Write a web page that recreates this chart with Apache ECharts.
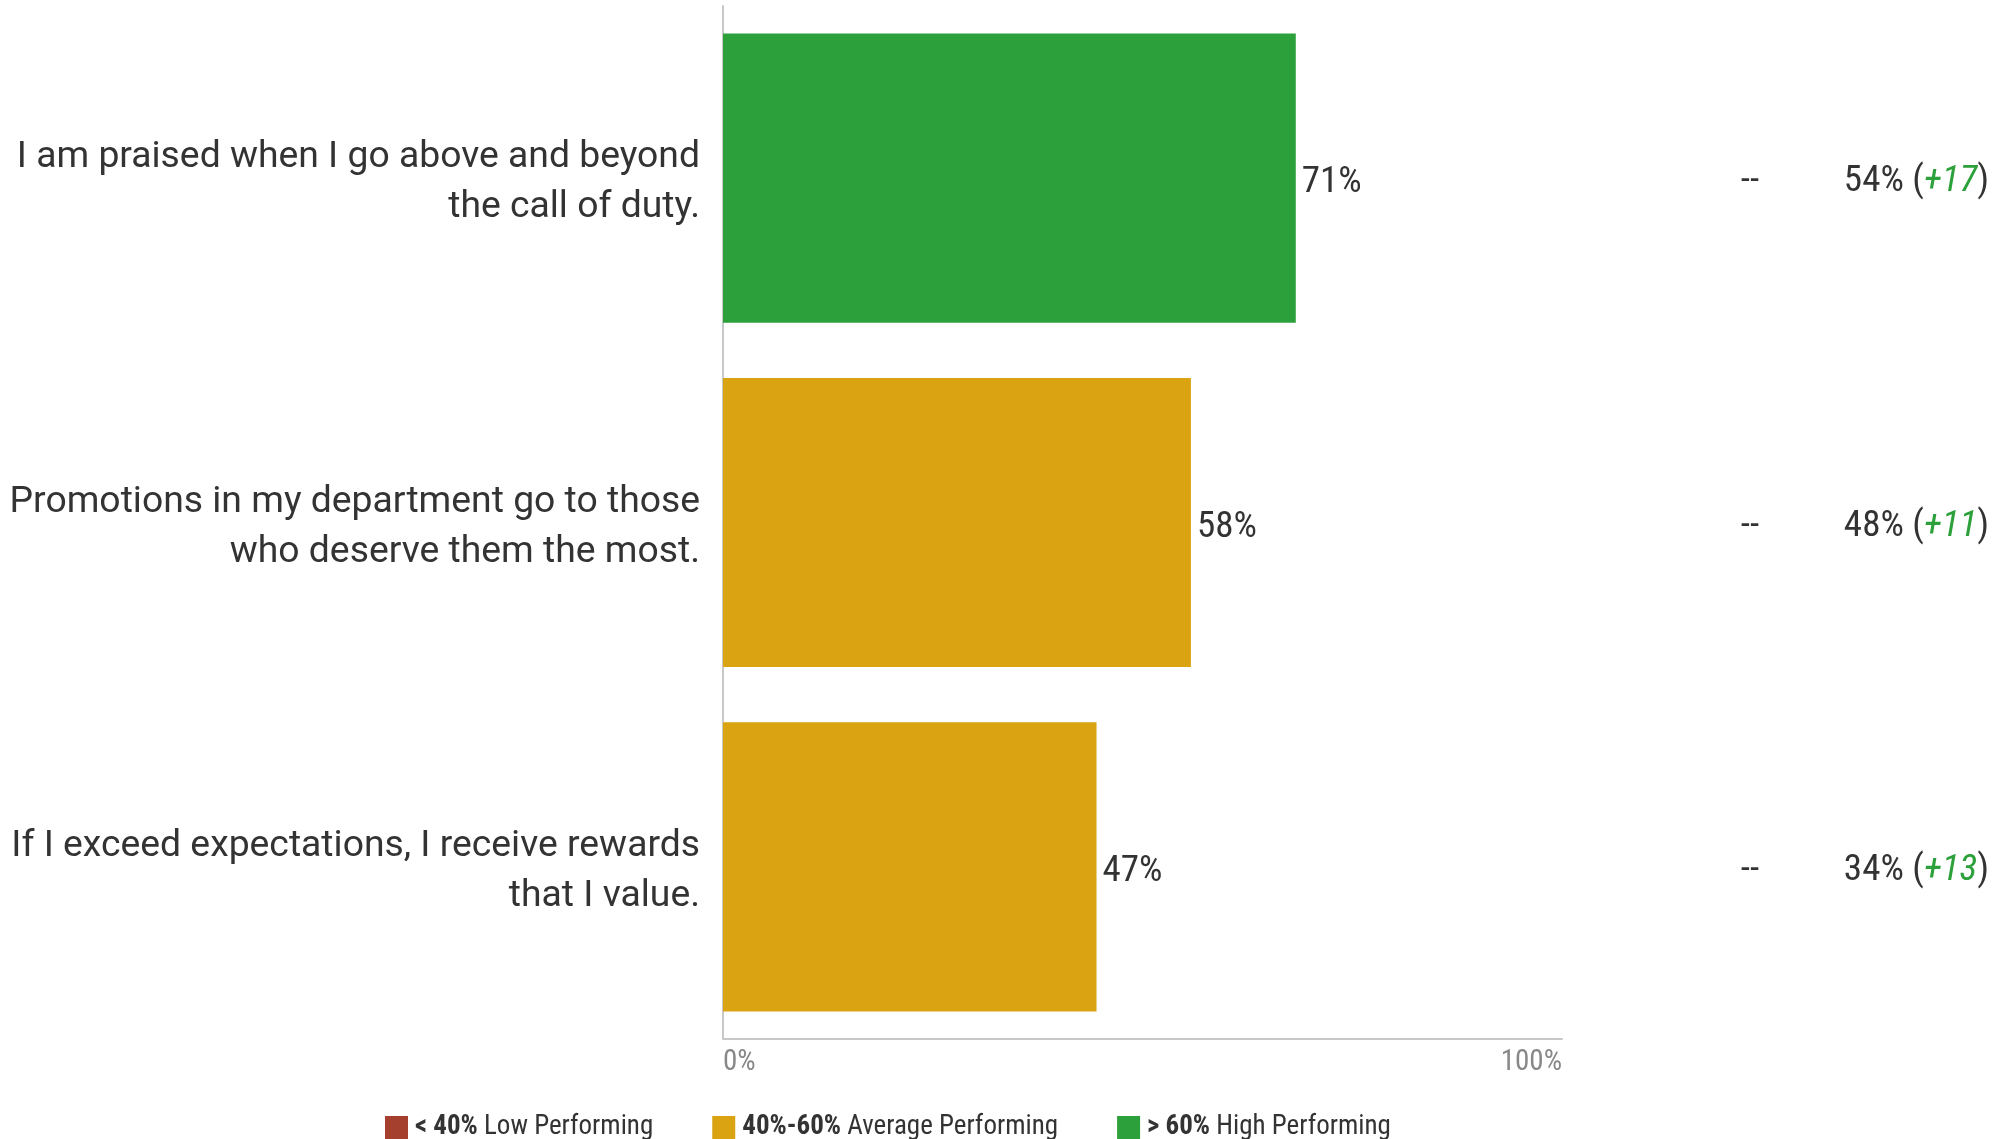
<!DOCTYPE html>
<html>
<head>
<meta charset="utf-8">
<script src="https://cdn.jsdelivr.net/npm/echarts@6/dist/echarts.min.js"></script>
<style>html,body{margin:0;padding:0;background:#fff}#c{width:2003px;height:1139px}</style>
</head>
<body>
<div id="c"></div>
<script>
const categories = [
  'I am praised when I go above and beyond\nthe call of duty.',
  'Promotions in my department go to those\nwho deserve them the most.',
  'If I exceed expectations, I receive rewards\nthat I value.'
];
const barValues = [71, 58, 46.3];
const scoreLabels = ['71%', '58%', '47%'];
const previous = ['--', '--', '--'];
const benchmarks = ['54%', '48%', '34%'];
const benchmarkDiffs = ['+17', '+11', '+13'];
const axisMax = 104;
const tickLabels = ['0%', '100%'];
const legendBold = ['< 40%', '40%-60%', '> 60%'];
const legendText = ['Low Performing', 'Average Performing', 'High Performing'];
const bandColors = ['#a5402f', '#d9a311', '#2ca03a'];
const bandLimits = [40, 60];

const narrow = "'Roboto Condensed','Liberation Sans Narrow','DejaVu Sans Condensed',Roboto,sans-serif";
const clear = 'rgba(0,0,0,0)';

function band(v){ return v < bandLimits[0] ? 0 : (v <= bandLimits[1] ? 1 : 2); }
const seriesNames = legendBold.map((b,i)=> b + ' ' + legendText[i]);
const series = [0,1,2].map(k => ({
  name: seriesNames[k],
  type: 'bar',
  stack: 'all',
  barCategoryGap: '16%',
  itemStyle: { color: bandColors[k] },
  label: {
    show: true, position: 'right', distance: 6, offset: [0, 5],
    formatter: p => scoreLabels[p.dataIndex],
    fontFamily: narrow, fontSize: 37, color: '#333'
  },
  data: barValues.map(v => band(v) === k ? v : '-')
}));

const chart = echarts.init(document.getElementById('c'));
chart.setOption({
  animation: false,
  grid: { left: 723, right: 441, top: 6, bottom: 100, containLabel: false },
  legend: {
    left: 380, top: 1109, icon: 'rect', itemWidth: 23, itemHeight: 23, itemGap: 59,
    selectedMode: false,
    data: seriesNames,
    formatter: name => { const i = seriesNames.indexOf(name); return '{b|' + legendBold[i] + '} ' + legendText[i]; },
    textStyle: {
      fontFamily: narrow, fontSize: 27, color: '#333', padding: [0,0,0,2],
      rich: { b: { fontFamily: narrow, fontSize: 27, fontWeight: 'bold', color: '#333' } }
    }
  },
  xAxis: {
    type: 'value', min: 0, max: axisMax, interval: axisMax,
    splitLine: { show: false },
    axisLine: { show: true, lineStyle: { color: '#c8c8c8', width: 2 } },
    axisTick: { show: false },
    axisLabel: {
      color: '#888', fontFamily: narrow, fontSize: 29, margin: 9,
      alignMinLabel: 'left', alignMaxLabel: 'right',
      formatter: v => v === 0 ? tickLabels[0] : tickLabels[1]
    }
  },
  yAxis: [
    {
      type: 'category', inverse: true, data: categories,
      axisLine: { show: true, lineStyle: { color: '#c8c8c8', width: 2 } },
      axisTick: { show: false },
      axisLabel: { color: '#333', fontFamily: 'Roboto', fontSize: 37.3, lineHeight: 50, margin: 23, align: 'right',
        padding: [10,0,0,0], backgroundColor: clear,
        formatter: v => v.split('\n').map(s => '{c|' + s + '}').join('\n'),
        rich: { c: { color: '#333', fontFamily: 'Roboto', fontSize: 37.3, lineHeight: 50 } }
      }
    },
    {
      type: 'category', inverse: true, position: 'right', data: categories,
      axisLine: { show: false }, axisTick: { show: false },
      axisLabel: { margin: 188, align: 'center', color: '#333', fontFamily: narrow, fontSize: 37,
        padding: [8,0,0,0], backgroundColor: clear,
        formatter: (v, i) => '{c|' + previous[i] + '}',
        rich: { c: { color: '#333', fontFamily: narrow, fontSize: 37 } }
      }
    },
    {
      type: 'category', inverse: true, position: 'right', data: categories,
      axisLine: { show: false }, axisTick: { show: false },
      axisLabel: { margin: 427, align: 'right', color: '#333', fontFamily: narrow, fontSize: 37,
        padding: [8,0,0,0], backgroundColor: clear,
        formatter: (v, i) => benchmarks[i] + ' ({d|' + benchmarkDiffs[i] + '})',
        rich: { d: { color: '#2ca03a', fontStyle: 'italic', fontFamily: narrow, fontSize: 37 } }
      }
    }
  ],
  series: series
});
</script>
</body>
</html>
